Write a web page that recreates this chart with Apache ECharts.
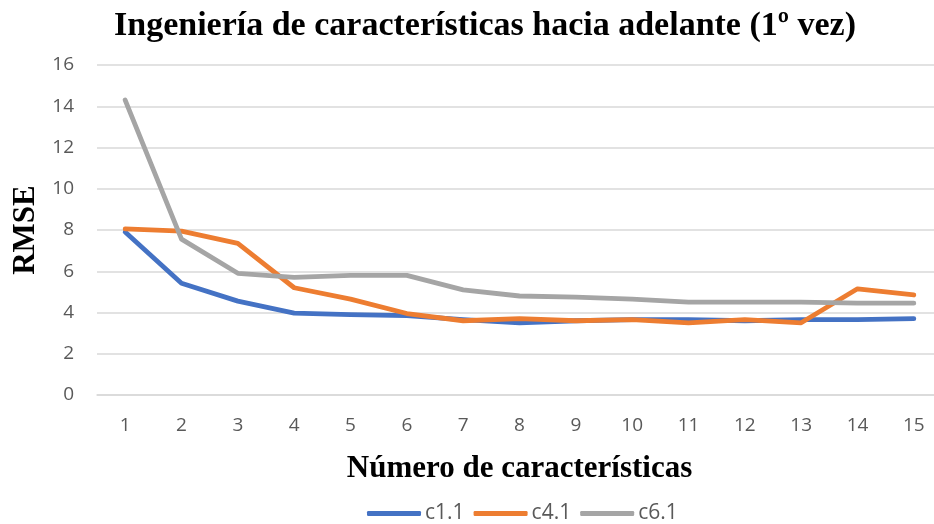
<!DOCTYPE html>
<html><head><meta charset="utf-8">
<script src="https://cdn.jsdelivr.net/npm/echarts@6/dist/echarts.min.js"></script>
<style>html,body{margin:0;padding:0;background:#fff}#c{width:934px;height:524px}</style>
</head><body><div id="c"></div>
<script>
const categories = ['1','2','3','4','5','6','7','8','9','10','11','12','13','14','15'];
const c11 = [7.9, 5.42, 4.55, 3.97, 3.9, 3.85, 3.65, 3.5, 3.6, 3.65, 3.65, 3.6, 3.65, 3.65, 3.7];
const c41 = [8.05, 7.95, 7.35, 5.2, 4.65, 3.95, 3.6, 3.7, 3.6, 3.65, 3.5, 3.65, 3.5, 5.15, 4.85];
const c61 = [14.3, 7.56, 5.9, 5.7, 5.8, 5.8, 5.1, 4.8, 4.75, 4.65, 4.5, 4.5, 4.5, 4.45, 4.45];
const seriesNames = ['c1.1','c4.1','c6.1'];
const colors = ['#4472C4','#ED7D31','#A5A5A5'];
const chart = echarts.init(document.getElementById('c'));
const mk = (name, data, color) => ({
  name, type:'line', data, symbol:'none', smooth:false,
  lineStyle:{width:4.8, color, cap:'round', join:'round'}, itemStyle:{color}
});
chart.setOption({
  animation:false,
  title:{text:'Ingeniería de características hacia adelante (1º vez)', left:480, textAlign:'center', top:4,
    textStyle:{fontFamily:'Liberation Serif', fontWeight:'bold', fontSize:34, color:'#000'}},
  legend:{top:498, left:362, itemWidth:54, itemHeight:5, itemGap:9,
    icon:'roundRect',
    textStyle:{fontFamily:'Open Sans', fontSize:21, color:'#595959', padding:[0,0,0,-1]},
    data:seriesNames},
  grid:{left:97, right:-8, top:65, bottom:129, outerBoundsMode:'none', containLabel:false},
  xAxis:{type:'category', data:categories, boundaryGap:true,
    name:'Número de características', nameLocation:'middle', nameGap:58,
    nameTextStyle:{fontFamily:'Liberation Serif', fontWeight:'bold', fontSize:31, color:'#000'},
    axisLine:{lineStyle:{color:'#d9d9d9', width:1.5}}, axisTick:{show:false},
    axisLabel:{fontFamily:'Open Sans', fontSize:19, color:'#595959', margin:21}},
  yAxis:{type:'value', min:0, max:16, interval:2,
    name:'RMSE', nameLocation:'middle', nameGap:54,
    nameTextStyle:{fontFamily:'Liberation Serif', fontWeight:'bold', fontSize:31, color:'#000'},
    axisLine:{show:false}, axisTick:{show:false},
    splitLine:{lineStyle:{color:'#d9d9d9', width:1.5}},
    axisLabel:{fontFamily:'Open Sans', fontSize:19, color:'#595959', margin:23}},
  series:[mk(seriesNames[0], c11, colors[0]), mk(seriesNames[1], c41, colors[1]), mk(seriesNames[2], c61, colors[2])]
});
</script></body></html>
